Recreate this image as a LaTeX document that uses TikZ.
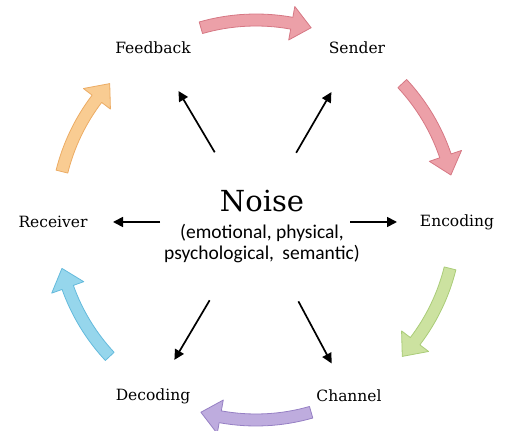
\documentclass[tikz,border=0pt]{standalone}
\usepackage{fontspec}
\newfontfamily\detailfont{Carlito}
\newfontfamily\stagefont{DejaVu Serif}
\usetikzlibrary{calc,arrows.meta,positioning}
\definecolor{pinkFill}{RGB}{236,160,168}
\definecolor{pinkEdge}{RGB}{214,120,132}
\definecolor{greenFill}{RGB}{204,226,160}
\definecolor{greenEdge}{RGB}{170,204,120}
\definecolor{purpleFill}{RGB}{190,172,222}
\definecolor{purpleEdge}{RGB}{150,128,196}
\definecolor{blueFill}{RGB}{150,214,236}
\definecolor{blueEdge}{RGB}{100,186,220}
\definecolor{orangeFill}{RGB}{249,204,146}
\definecolor{orangeEdge}{RGB}{236,172,100}
\tikzset{
  stage/.style={font=\stagefont\fontsize{15.5}{18}\selectfont,inner sep=2pt},
  noisearrow/.style={-{Triangle[length=10pt,width=10pt]},line width=1.7pt},
}
% curved block arrow on the ring: fill, edge, start angle, end angle
\newcommand{\cyclearrow}[4]{%
  \pgfmathsetmacro{\neckangle}{#4+5.7}
  \filldraw[fill=#1,draw=#2,line width=.8pt,line join=round]
    ($(ring)+(#3:206pt)$) arc[start angle=#3,end angle=\neckangle,radius=206pt]
    -- ($(ring)+(\neckangle:217pt)$) -- ($(ring)+(#4:200pt)$)
    -- ($(ring)+(\neckangle:183pt)$) -- ($(ring)+(\neckangle:194pt)$)
    arc[start angle=\neckangle,end angle=#3,radius=194pt] -- cycle;
}

\begin{document}
\begin{tikzpicture}[x=1pt,y=1pt]
\useasboundingbox (0,0) rectangle (506,431);
\coordinate (ring) at (256,211);
\coordinate (hub) at (256,209);

% stages
\node[stage] (feedback) at (153,383) {Feedback};
\node[stage] (sender) at (357,383) {Sender};
\node[stage] (encoding) at (457,209) {Encoding};
\node[stage] (channel) at (349,35) {Channel};
\node[stage] (decoding) at (153,35) {Decoding};
\node[stage] (receiver) at (53,209) {Receiver};

% noise in the middle
\node[font=\stagefont\fontsize{29}{32}\selectfont,inner sep=0pt] (noise) at (262,230) {Noise};
\node[below=12pt of noise,align=center,inner sep=0pt,font=\detailfont\fontsize{19.5}{21}\selectfont] (noisedetail)
  {(emotional, physical,\\psychological,\hspace{4pt} semantic)};

\draw[noisearrow,shorten <=81pt,shorten >=50pt] (hub) -- (feedback.center);
\draw[noisearrow,shorten <=80pt,shorten >=51pt] (hub) -- (sender.center);
\draw[noisearrow,shorten <=96pt,shorten >=60pt] (hub) -- (receiver.center);
\draw[noisearrow,shorten <=94pt,shorten >=60pt] (hub) -- (encoding.center);
\draw[noisearrow,shorten <=91pt,shorten >=42pt] (hub) -- (decoding.center);
\draw[noisearrow,shorten <=90pt,shorten >=37pt] (hub) -- (channel.center);

% the cycle
\foreach \fillcol/\edgecol/\from/\to in {pinkFill/pinkEdge/106/74, pinkFill/pinkEdge/43/13,
    greenFill/greenEdge/-14/-43, purpleFill/purpleEdge/-74/-106,
    blueFill/blueEdge/223/194, orangeFill/orangeEdge/166/137}
  \cyclearrow{\fillcol}{\edgecol}{\from}{\to};
\end{tikzpicture}
\end{document}
